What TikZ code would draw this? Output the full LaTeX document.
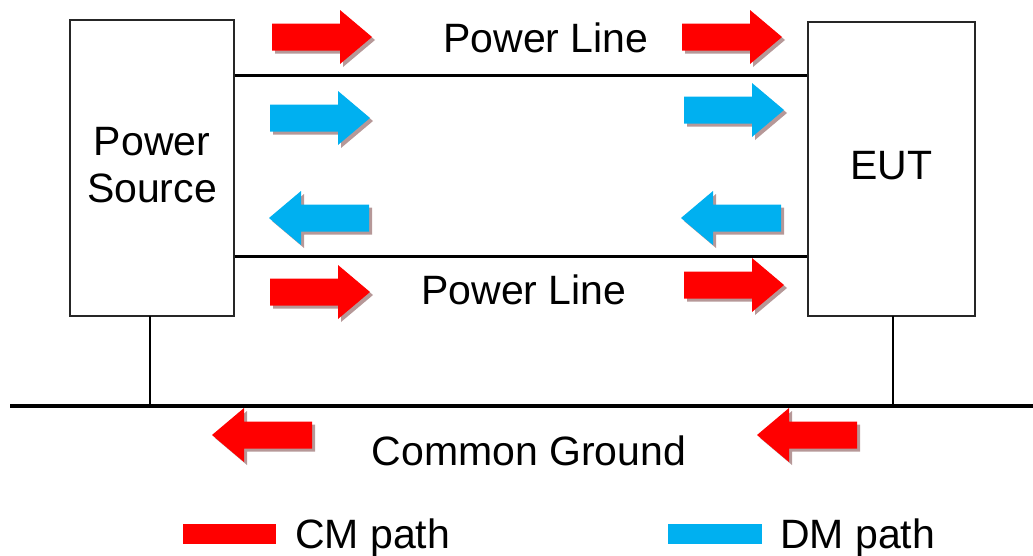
\documentclass[tikz,border=0pt]{standalone}
\usepackage{fontspec}
\setmainfont{Liberation Sans}
\definecolor{cmred}{RGB}{255,0,0}
\definecolor{dmblue}{RGB}{0,176,240}
\definecolor{arrowshade}{RGB}{182,152,152}
% block arrow, tail at the origin, pointing towards +x
\newcommand{\blockarrowpath}{(0,-13.5) -- (68,-13.5) -- (68,-27) -- (100,0) -- (68,27) -- (68,13.5) -- (0,13.5) -- cycle}
% #1 tail x, #2 centre y, #3 colour, #4 direction (1 = right, -1 = left)
\newcommand{\flowarrow}[4]{%
  \begin{scope}[shift={(#1+3,#2+3)},xscale=#4]
    \fill[arrowshade] \blockarrowpath;
  \end{scope}
  \begin{scope}[shift={(#1,#2)},xscale=#4]
    \fill[#3] \blockarrowpath;
  \end{scope}}
\begin{document}
\begin{tikzpicture}[x=1pt,y=-1pt,
  unit/.style={draw=black!85,line width=1.1pt,inner sep=0pt},
  label/.style={font=\fontsize{41}{47}\selectfont,inner sep=0pt,align=center},
  wire/.style={line width=3pt},
  earth/.style={line width=4.5pt},
  drop/.style={line width=2pt}]
\useasboundingbox (0,0) rectangle (1033,555);

% equipment blocks
\node[unit,minimum width=164pt,minimum height=296pt] (src) at (152,168) {};
\node[unit,minimum width=167pt,minimum height=294pt] (eut) at (891.5,169) {};
\node[label] (srctext) at (152,165) {Power\\Source};
\node[label] (euttext) at (891.5,166) {EUT};

% power lines between the blocks
\draw[wire] (src.east |- 0,75) -- (eut.west |- 0,75);
\draw[wire] (src.east |- 0,256) -- (eut.west |- 0,256);

% common ground and the connections to it
\coordinate (gl) at (10,406);
\coordinate (gr) at (1033,406);
\draw[earth] (gl) -- (gr);
\coordinate (srcfoot) at (150,316);
\coordinate (eutfoot) at (893,316);
\draw[drop] (srcfoot) -- (srcfoot |- gl);
\draw[drop] (eutfoot) -- (eutfoot |- gl);

% text labels
\node[label,anchor=base] (pl1) at (546,52) {Power Line};
\node[label,anchor=base] (pl2) at (524,304) {Power Line};
\node[label,anchor=base] (gnd) at (529,465) {Common Ground};

% current flow arrows
\flowarrow{272}{37}{cmred}{1}
\flowarrow{682}{37}{cmred}{1}
\flowarrow{270}{118}{dmblue}{1}
\flowarrow{684}{110}{dmblue}{1}
\flowarrow{369}{218}{dmblue}{-1}
\flowarrow{781}{218}{dmblue}{-1}
\flowarrow{270}{292}{cmred}{1}
\flowarrow{684}{285}{cmred}{1}
\flowarrow{312}{435}{cmred}{-1}
\flowarrow{857}{435}{cmred}{-1}

% legend
\fill[cmred] (183,524) rectangle (276,544);
\node[label,anchor=base west] (cm) at (295,548) {CM path};
\fill[dmblue] (668,524) rectangle (762,544);
\node[label,anchor=base west] (dm) at (780,548) {DM path};
\end{tikzpicture}
\end{document}
